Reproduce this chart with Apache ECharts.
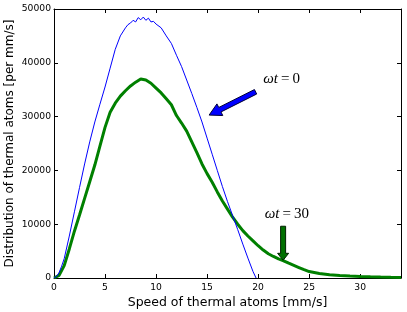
<!DOCTYPE html>
<html><head><meta charset="utf-8">
<script src="https://cdn.jsdelivr.net/npm/echarts@6/dist/echarts.min.js"></script>
<style>html,body{margin:0;padding:0;background:#fff}#c{width:407px;height:312px}</style>
</head><body><div id="c"></div>
<script>
// ---- data ----
const blueSpeed = [0,0.25,0.5,0.75,1,1.5,2,2.5,3,3.5,4,4.5,5,5.5,6,6.5,7,7.25,7.5,7.75,8,8.25,8.5,8.75,9,9.25,9.5,9.75,10,10.5,11,11.5,12,12.5,13,13.5,14,14.5,15,15.5,16,16.5,17,17.5,18,18.5,19,19.5,19.8];
const blueDist  = [0,300,1000,2200,3600,7800,12300,16800,21200,25300,29000,32300,35500,39000,42500,45000,46500,47100,47400,47900,47600,48400,48000,48500,47900,48300,47600,47700,47200,46500,45000,43600,41400,39300,36800,34300,31700,29000,26000,23000,20000,17000,14200,11600,9000,6300,3700,1200,0];
const greenSpeed = [0,0.5,1,1.5,2,2.5,3,3.5,4,4.5,5,5.5,6,6.5,7,7.5,8,8.5,9,9.5,10,10.5,11,11.5,12,12.5,13,13.5,14,14.5,15,15.5,16,16.5,17,17.5,18,18.5,19,19.5,20,20.5,21,21.5,22,22.5,23,23.5,24,24.5,25,26,27,28,29,30,31,32,33,34];
const greenDist  = [0,500,2300,5400,8700,11700,14800,17900,21000,24500,28000,30800,32500,33800,34800,35700,36400,37000,36800,36200,35300,34400,33300,32200,30200,28800,27300,25300,23300,21200,19400,17800,16000,14300,12800,11300,10000,8800,7800,6900,6000,5200,4500,4000,3550,3200,2750,2350,1950,1550,1200,850,600,450,350,280,220,170,130,100];
const xTicks = [0,5,10,15,20,25,30];
const yTicks = [0,10000,20000,30000,40000,50000];
const labelT0 = "=\u20090";
const labelT30 = "=\u200930";
// annotation anchors (data units)
const arrowBlue = {from:[19.75,34610], to:[15.2,30280]};
const arrowGreen = {from:[22.45,9620], to:[22.45,3290]};
const textT0 = [20.5,36900];
const textT30 = [20.65,11850];

const chart = echarts.init(document.getElementById('c'), null, {renderer:'canvas'});
const font = 'DejaVu Sans';
const pair = (xs, ys) => xs.map((x,i)=>[x, ys[i]]);
const grid = {left:54, right:6, top:9, bottom:34, show:false, containLabel:false, outerBoundsMode:'none'};
const tickStyle = {inside:true, length:4, lineStyle:{color:'#000', width:1}};
const option = {
  animation:false,
  backgroundColor:'#fff',
  grid,
  xAxis:[{
    type:'value', min:0, max:34, interval:5, position:'bottom',
    axisLine:{show:true, onZero:false, lineStyle:{color:'#000', width:1}},
    axisTick:tickStyle, splitLine:{show:false},
    axisLabel:{color:'#000', fontFamily:font, fontSize:9.2, margin:5, showMaxLabel:false,
      formatter: v => xTicks.includes(v) ? String(v) : ''},
    name:'Speed of thermal atoms [mm/s]', nameLocation:'middle', nameGap:18, nameMoveOverlap:false,
    nameTextStyle:{color:'#000', fontFamily:font, fontSize:12.5}
  },{
    type:'value', min:0, max:34, interval:5, position:'top',
    axisLine:{show:true, onZero:false, lineStyle:{color:'#000', width:1}},
    axisTick:tickStyle, axisLabel:{show:false}, splitLine:{show:false}
  }],
  yAxis:[{
    type:'value', min:0, max:50000, interval:10000, position:'left',
    axisLine:{show:true, onZero:false, lineStyle:{color:'#000', width:1}},
    axisTick:tickStyle, splitLine:{show:false},
    axisLabel:{color:'#000', fontFamily:font, fontSize:9.2, margin:3,
      formatter: v => yTicks.includes(v) ? String(v) : ''},
    name:'Distribution of thermal atoms [per mm/s]', nameLocation:'middle', nameGap:44, nameMoveOverlap:false,
    nameTextStyle:{color:'#000', fontFamily:font, fontSize:12, verticalAlign:'middle'}
  },{
    type:'value', min:0, max:50000, interval:10000, position:'right',
    axisLine:{show:true, onZero:false, lineStyle:{color:'#000', width:1}},
    axisTick:tickStyle, axisLabel:{show:false}, splitLine:{show:false}
  }],
  series:[{
    type:'line', data:pair(blueSpeed, blueDist), showSymbol:false, symbol:'none',
    lineStyle:{color:'#0000ff', width:1}, z:3, clip:true
  },{
    type:'line', data:pair(greenSpeed, greenDist), showSymbol:false, symbol:'none',
    lineStyle:{color:'#008000', width:3}, z:2, clip:true
  }]
};
chart.setOption(option);

function arrowPoly(a, b, w, hw, hl){
  const dx=b[0]-a[0], dy=b[1]-a[1], L=Math.hypot(dx,dy);
  const ux=dx/L, uy=dy/L, nx=-uy, ny=ux;
  const nk=[b[0]-ux*hl, b[1]-uy*hl];
  return [
    [a[0]+nx*w/2, a[1]+ny*w/2],
    [nk[0]+nx*w/2, nk[1]+ny*w/2],
    [nk[0]+nx*hw/2, nk[1]+ny*hw/2],
    b,
    [nk[0]-nx*hw/2, nk[1]-ny*hw/2],
    [nk[0]-nx*w/2, nk[1]-ny*w/2],
    [a[0]-nx*w/2, a[1]-ny*w/2]
  ];
}
const px = p => chart.convertToPixel({gridIndex:0}, p);
const bA = px(arrowBlue.from), bB = px(arrowBlue.to);
const gA = px(arrowGreen.from), gB = px(arrowGreen.to);
const t0 = px(textT0), t30 = px(textT30);
const richSty = {
  w:{fontFamily:'Liberation Serif', fontStyle:'italic', fontSize:15, fill:'#000'},
  n:{fontFamily:'Liberation Serif', fontSize:15, fill:'#000'}
};
chart.setOption({graphic:[
  {type:'polygon', shape:{points:arrowPoly(bA,bB,5,13,12)}, style:{fill:'#0000ff', stroke:'#000033', lineWidth:1}, z:10},
  {type:'polygon', shape:{points:arrowPoly(gA,gB,5,11,7)}, style:{fill:'#007000', stroke:'#002000', lineWidth:1}, z:10},
  {type:'text', x:t0[0], y:t0[1], style:{text:'{w|ωt\u2009}{n|'+labelT0+'}', rich:richSty, verticalAlign:'middle', align:'left'}, z:10},
  {type:'text', x:t30[0], y:t30[1], style:{text:'{w|ωt\u2009}{n|'+labelT30+'}', rich:richSty, verticalAlign:'middle', align:'left'}, z:10}
]});
</script></body></html>
